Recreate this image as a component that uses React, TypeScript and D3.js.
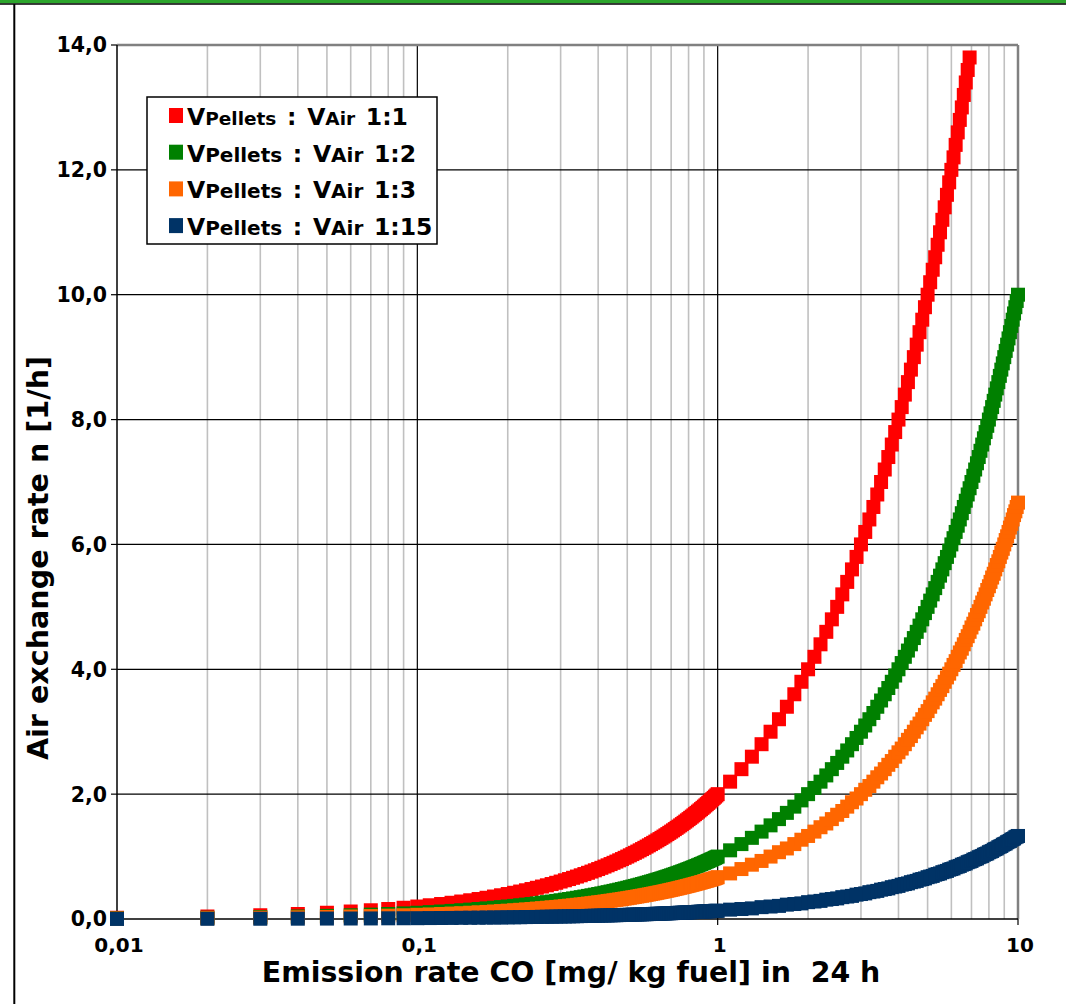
import React from 'react';
import * as d3 from 'd3';

// x values (emission rate CO), three ranges with different step widths
const xLow = [0.01, 0.02, 0.03, 0.04, 0.05, 0.06, 0.07, 0.08, 0.09];
const xMid = [
  0.10, 0.11, 0.12, 0.13, 0.14, 0.15, 0.16, 0.17, 0.18, 0.19,
  0.20, 0.21, 0.22, 0.23, 0.24, 0.25, 0.26, 0.27, 0.28, 0.29,
  0.30, 0.31, 0.32, 0.33, 0.34, 0.35, 0.36, 0.37, 0.38, 0.39,
  0.40, 0.41, 0.42, 0.43, 0.44, 0.45, 0.46, 0.47, 0.48, 0.49,
  0.50, 0.51, 0.52, 0.53, 0.54, 0.55, 0.56, 0.57, 0.58, 0.59,
  0.60, 0.61, 0.62, 0.63, 0.64, 0.65, 0.66, 0.67, 0.68, 0.69,
  0.70, 0.71, 0.72, 0.73, 0.74, 0.75, 0.76, 0.77, 0.78, 0.79,
  0.80, 0.81, 0.82, 0.83, 0.84, 0.85, 0.86, 0.87, 0.88, 0.89,
  0.90, 0.91, 0.92, 0.93, 0.94, 0.95, 0.96, 0.97, 0.98, 0.99,
];
const xHigh = [
  1.0, 1.1, 1.2, 1.3, 1.4, 1.5, 1.6, 1.7, 1.8, 1.9,
  2.0, 2.1, 2.2, 2.3, 2.4, 2.5, 2.6, 2.7, 2.8, 2.9,
  3.0, 3.1, 3.2, 3.3, 3.4, 3.5, 3.6, 3.7, 3.8, 3.9,
  4.0, 4.1, 4.2, 4.3, 4.4, 4.5, 4.6, 4.7, 4.8, 4.9,
  5.0, 5.1, 5.2, 5.3, 5.4, 5.5, 5.6, 5.7, 5.8, 5.9,
  6.0, 6.1, 6.2, 6.3, 6.4, 6.5, 6.6, 6.7, 6.8, 6.9,
  7.0, 7.1, 7.2, 7.3, 7.4, 7.5, 7.6, 7.7, 7.8, 7.9,
  8.0, 8.1, 8.2, 8.3, 8.4, 8.5, 8.6, 8.7, 8.8, 8.9,
  9.0, 9.1, 9.2, 9.3, 9.4, 9.5, 9.6, 9.7, 9.8, 9.9,
  10.0,
];

// air exchange rate n, VPellets : VAir 1:1
const redLow = [0.02, 0.04, 0.06, 0.08, 0.10, 0.12, 0.14, 0.16, 0.18];
const redMid = [
  0.20, 0.22, 0.24, 0.26, 0.28, 0.30, 0.32, 0.34, 0.36, 0.38,
  0.40, 0.42, 0.44, 0.46, 0.48, 0.50, 0.52, 0.54, 0.56, 0.58,
  0.60, 0.62, 0.64, 0.66, 0.68, 0.70, 0.72, 0.74, 0.76, 0.78,
  0.80, 0.82, 0.84, 0.86, 0.88, 0.90, 0.92, 0.94, 0.96, 0.98,
  1.00, 1.02, 1.04, 1.06, 1.08, 1.10, 1.12, 1.14, 1.16, 1.18,
  1.20, 1.22, 1.24, 1.26, 1.28, 1.30, 1.32, 1.34, 1.36, 1.38,
  1.40, 1.42, 1.44, 1.46, 1.48, 1.50, 1.52, 1.54, 1.56, 1.58,
  1.60, 1.62, 1.64, 1.66, 1.68, 1.70, 1.72, 1.74, 1.76, 1.78,
  1.80, 1.82, 1.84, 1.86, 1.88, 1.90, 1.92, 1.94, 1.96, 1.98,
];
const redHigh = [
  2.0, 2.2, 2.4, 2.6, 2.8, 3.0, 3.2, 3.4, 3.6, 3.8,
  4.0, 4.2, 4.4, 4.6, 4.8, 5.0, 5.2, 5.4, 5.6, 5.8,
  6.0, 6.2, 6.4, 6.6, 6.8, 7.0, 7.2, 7.4, 7.6, 7.8,
  8.0, 8.2, 8.4, 8.6, 8.8, 9.0, 9.2, 9.4, 9.6, 9.8,
  10.0, 10.2, 10.4, 10.6, 10.8, 11.0, 11.2, 11.4, 11.6, 11.8,
  12.0, 12.2, 12.4, 12.6, 12.8, 13.0, 13.2, 13.4, 13.6, 13.8,
];

// 1:2
const greenLow = [0.01, 0.02, 0.03, 0.04, 0.05, 0.06, 0.07, 0.08, 0.09];
const greenMid = [
  0.10, 0.11, 0.12, 0.13, 0.14, 0.15, 0.16, 0.17, 0.18, 0.19,
  0.20, 0.21, 0.22, 0.23, 0.24, 0.25, 0.26, 0.27, 0.28, 0.29,
  0.30, 0.31, 0.32, 0.33, 0.34, 0.35, 0.36, 0.37, 0.38, 0.39,
  0.40, 0.41, 0.42, 0.43, 0.44, 0.45, 0.46, 0.47, 0.48, 0.49,
  0.50, 0.51, 0.52, 0.53, 0.54, 0.55, 0.56, 0.57, 0.58, 0.59,
  0.60, 0.61, 0.62, 0.63, 0.64, 0.65, 0.66, 0.67, 0.68, 0.69,
  0.70, 0.71, 0.72, 0.73, 0.74, 0.75, 0.76, 0.77, 0.78, 0.79,
  0.80, 0.81, 0.82, 0.83, 0.84, 0.85, 0.86, 0.87, 0.88, 0.89,
  0.90, 0.91, 0.92, 0.93, 0.94, 0.95, 0.96, 0.97, 0.98, 0.99,
];
const greenHigh = [
  1.0, 1.1, 1.2, 1.3, 1.4, 1.5, 1.6, 1.7, 1.8, 1.9,
  2.0, 2.1, 2.2, 2.3, 2.4, 2.5, 2.6, 2.7, 2.8, 2.9,
  3.0, 3.1, 3.2, 3.3, 3.4, 3.5, 3.6, 3.7, 3.8, 3.9,
  4.0, 4.1, 4.2, 4.3, 4.4, 4.5, 4.6, 4.7, 4.8, 4.9,
  5.0, 5.1, 5.2, 5.3, 5.4, 5.5, 5.6, 5.7, 5.8, 5.9,
  6.0, 6.1, 6.2, 6.3, 6.4, 6.5, 6.6, 6.7, 6.8, 6.9,
  7.0, 7.1, 7.2, 7.3, 7.4, 7.5, 7.6, 7.7, 7.8, 7.9,
  8.0, 8.1, 8.2, 8.3, 8.4, 8.5, 8.6, 8.7, 8.8, 8.9,
  9.0, 9.1, 9.2, 9.3, 9.4, 9.5, 9.6, 9.7, 9.8, 9.9,
  10.0,
];

// 1:3
const orangeLow = [0.007, 0.013, 0.020, 0.027, 0.033, 0.040, 0.047, 0.053, 0.060];
const orangeMid = [
  0.067, 0.073, 0.080, 0.087, 0.093, 0.100, 0.107, 0.113, 0.120, 0.127,
  0.133, 0.140, 0.147, 0.153, 0.160, 0.167, 0.173, 0.180, 0.187, 0.193,
  0.200, 0.207, 0.213, 0.220, 0.227, 0.233, 0.240, 0.247, 0.253, 0.260,
  0.267, 0.273, 0.280, 0.287, 0.293, 0.300, 0.307, 0.313, 0.320, 0.327,
  0.333, 0.340, 0.347, 0.353, 0.360, 0.367, 0.373, 0.380, 0.387, 0.393,
  0.400, 0.407, 0.413, 0.420, 0.427, 0.433, 0.440, 0.447, 0.453, 0.460,
  0.467, 0.473, 0.480, 0.487, 0.493, 0.500, 0.507, 0.513, 0.520, 0.527,
  0.533, 0.540, 0.547, 0.553, 0.560, 0.567, 0.573, 0.580, 0.587, 0.593,
  0.600, 0.607, 0.613, 0.620, 0.627, 0.633, 0.640, 0.647, 0.653, 0.660,
];
const orangeHigh = [
  0.67, 0.73, 0.80, 0.87, 0.93, 1.00, 1.07, 1.13, 1.20, 1.27,
  1.33, 1.40, 1.47, 1.53, 1.60, 1.67, 1.73, 1.80, 1.87, 1.93,
  2.00, 2.07, 2.13, 2.20, 2.27, 2.33, 2.40, 2.47, 2.53, 2.60,
  2.67, 2.73, 2.80, 2.87, 2.93, 3.00, 3.07, 3.13, 3.20, 3.27,
  3.33, 3.40, 3.47, 3.53, 3.60, 3.67, 3.73, 3.80, 3.87, 3.93,
  4.00, 4.07, 4.13, 4.20, 4.27, 4.33, 4.40, 4.47, 4.53, 4.60,
  4.67, 4.73, 4.80, 4.87, 4.93, 5.00, 5.07, 5.13, 5.20, 5.27,
  5.33, 5.40, 5.47, 5.53, 5.60, 5.67, 5.73, 5.80, 5.87, 5.93,
  6.00, 6.07, 6.13, 6.20, 6.27, 6.33, 6.40, 6.47, 6.53, 6.60,
  6.67,
];

// 1:15
const blueLow = [0.001, 0.003, 0.004, 0.005, 0.007, 0.008, 0.009, 0.011, 0.012];
const blueMid = [
  0.013, 0.015, 0.016, 0.017, 0.019, 0.020, 0.021, 0.023, 0.024, 0.025,
  0.027, 0.028, 0.029, 0.031, 0.032, 0.033, 0.035, 0.036, 0.037, 0.039,
  0.040, 0.041, 0.043, 0.044, 0.045, 0.047, 0.048, 0.049, 0.051, 0.052,
  0.053, 0.055, 0.056, 0.057, 0.059, 0.060, 0.061, 0.063, 0.064, 0.065,
  0.067, 0.068, 0.069, 0.071, 0.072, 0.073, 0.075, 0.076, 0.077, 0.079,
  0.080, 0.081, 0.083, 0.084, 0.085, 0.087, 0.088, 0.089, 0.091, 0.092,
  0.093, 0.095, 0.096, 0.097, 0.099, 0.100, 0.101, 0.103, 0.104, 0.105,
  0.107, 0.108, 0.109, 0.111, 0.112, 0.113, 0.115, 0.116, 0.117, 0.119,
  0.120, 0.121, 0.123, 0.124, 0.125, 0.127, 0.128, 0.129, 0.131, 0.132,
];
const blueHigh = [
  0.13, 0.15, 0.16, 0.17, 0.19, 0.20, 0.21, 0.23, 0.24, 0.25,
  0.27, 0.28, 0.29, 0.31, 0.32, 0.33, 0.35, 0.36, 0.37, 0.39,
  0.40, 0.41, 0.43, 0.44, 0.45, 0.47, 0.48, 0.49, 0.51, 0.52,
  0.53, 0.55, 0.56, 0.57, 0.59, 0.60, 0.61, 0.63, 0.64, 0.65,
  0.67, 0.68, 0.69, 0.71, 0.72, 0.73, 0.75, 0.76, 0.77, 0.79,
  0.80, 0.81, 0.83, 0.84, 0.85, 0.87, 0.88, 0.89, 0.91, 0.92,
  0.93, 0.95, 0.96, 0.97, 0.99, 1.00, 1.01, 1.03, 1.04, 1.05,
  1.07, 1.08, 1.09, 1.11, 1.12, 1.13, 1.15, 1.16, 1.17, 1.19,
  1.20, 1.21, 1.23, 1.24, 1.25, 1.27, 1.28, 1.29, 1.31, 1.32,
  1.33,
];

const seriesRatios = ['1:1', '1:2', '1:3', '1:15'];
const seriesColors = ['#ff0000', '#008000', '#ff6600', '#003366'];

const xTickValues = [0.01, 0.1, 1, 10];
const xTickLabels = ['0,01', '0,1', '1', '10'];
const yTickValues = [0, 2, 4, 6, 8, 10, 12, 14];
const yTickLabels = ['0,0', '2,0', '4,0', '6,0', '8,0', '10,0', '12,0', '14,0'];

const W = 1066;
const H = 1004;
const FONT = "'DejaVu Sans', Verdana, sans-serif";

export default function App() {
  const xAll = [...xLow, ...xMid, ...xHigh];
  const series = [
    [...redLow, ...redMid, ...redHigh],
    [...greenLow, ...greenMid, ...greenHigh],
    [...orangeLow, ...orangeMid, ...orangeHigh],
    [...blueLow, ...blueMid, ...blueHigh],
  ].map((ys, i) => ({
    ratio: seriesRatios[i],
    color: seriesColors[i],
    points: ys.map((v, j) => [xAll[j], v] as [number, number]),
  }));

  const x = d3.scaleLog().domain([0.01, 10]).range([117, 1018]);
  const y = d3.scaleLinear().domain([0, 14]).range([919, 45]);
  const [x0, x1] = x.range();
  const [y0, y1] = y.range();

  const minorX = x.ticks().filter((t) => !xTickValues.some((v) => Math.abs(v - t) < 1e-9));
  const majorX = xTickValues.filter((v) => v > 0.01 && v < 10);
  const ms = 14;

  return (
    <div style={{ position: 'absolute', left: 0, top: 0 }}>
      <svg width={W} height={H} style={{ display: 'block', background: '#fff' }}>
        {/* page frame */}
        <rect x={0} y={0} width={W} height={3.3} fill="#2ca52c" />
        <line x1={0} x2={W} y1={4} y2={4} stroke="#000" strokeWidth={1.5} />
        <line x1={14.3} x2={14.3} y1={4} y2={H} stroke="#000" strokeWidth={2} />

        {/* grid */}
        {minorX.map((t) => (
          <line key={'mx' + t} x1={x(t)} x2={x(t)} y1={y1} y2={y0} stroke="#c0c0c0" strokeWidth={1.6} />
        ))}
        {majorX.map((t) => (
          <line key={'Mx' + t} x1={x(t)} x2={x(t)} y1={y1} y2={y0} stroke="#000" strokeWidth={1.2} />
        ))}
        {yTickValues.filter((v) => v > 0 && v < 14).map((v) => (
          <line key={'gy' + v} x1={x0} x2={x1} y1={y(v)} y2={y(v)} stroke="#000" strokeWidth={1.2} />
        ))}

        {/* plot frame */}
        <line x1={x0} x2={x1} y1={y1} y2={y1} stroke="#808080" strokeWidth={2.5} />
        <line x1={x1} x2={x1} y1={y1} y2={y0} stroke="#808080" strokeWidth={2.5} />
        <line x1={x0} x2={x0} y1={y1} y2={y0} stroke="#000" strokeWidth={1.5} />
        <line x1={x0} x2={x1} y1={y0} y2={y0} stroke="#000" strokeWidth={1.5} />

        {/* ticks and labels */}
        {yTickValues.map((v, i) => (
          <g key={'yt' + v}>
            <line x1={x0 - 6} x2={x0} y1={y(v)} y2={y(v)} stroke="#000" strokeWidth={1.2} />
            <text x={107} y={y(v)} dy="0.36em" textAnchor="end" fontFamily={FONT} fontWeight="bold" fontSize={20.5}>
              {yTickLabels[i]}
            </text>
          </g>
        ))}
        {xTickValues.map((v, i) => (
          <g key={'xt' + v}>
            <line x1={x(v)} x2={x(v)} y1={y0} y2={y0 + 6} stroke="#000" strokeWidth={1.2} />
            <text x={x(v) + 2} y={952} textAnchor="middle" fontFamily={FONT} fontWeight="bold" fontSize={20}>
              {xTickLabels[i]}
            </text>
          </g>
        ))}

        {/* data */}
        {series.map((s) => (
          <g key={s.ratio} fill={s.color}>
            {s.points.map(([px, py], j) => (
              <rect key={j} x={x(px) - ms / 2} y={y(py) - ms / 2} width={ms} height={ms} />
            ))}
          </g>
        ))}

        {/* axis titles */}
        <text
          x={571}
          y={982}
          textAnchor="middle"
          fontFamily={FONT}
          fontWeight="bold"
          fontSize={28.4}
          style={{ whiteSpace: 'pre' }}
        >
          {'Emission rate CO [mg/ kg fuel] in  24 h'}
        </text>
        <text
          transform="translate(48,558) rotate(-90)"
          textAnchor="middle"
          fontFamily={FONT}
          fontWeight="bold"
          fontSize={28.6}
        >
          Air exchange rate n [1/h]
        </text>

        {/* legend */}
        <rect x={147} y={97} width={290} height={147} fill="#fff" stroke="#000" strokeWidth={1.5} />
        {series.map((s, i) => {
          const by = 125 + i * 36.7;
          const small = i === 0 ? 18.5 : 20;
          return (
            <g key={'lg' + s.ratio}>
              <rect x={169} y={by - 17} width={14} height={15} fill={s.color} />
              <text
                x={187}
                y={by}
                fontFamily={FONT}
                fontWeight="bold"
                fontSize={23.5}
                wordSpacing={2.5}
                style={{ whiteSpace: 'pre' }}
              >
                <tspan>V</tspan>
                <tspan fontSize={small}>Pellets</tspan>
                <tspan>{' : V'}</tspan>
                <tspan fontSize={small}>Air</tspan>
                <tspan>{' ' + s.ratio}</tspan>
              </text>
            </g>
          );
        })}
      </svg>
    </div>
  );
}
